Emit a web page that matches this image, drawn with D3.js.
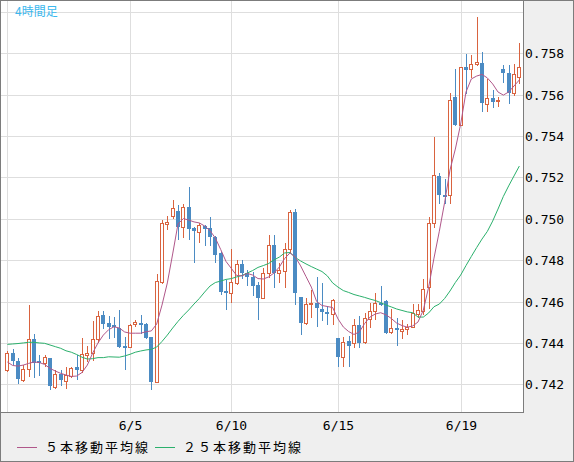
<!DOCTYPE html>
<html>
<head>
<meta charset="UTF-8" />
<script src="https://d3js.org/d3.v7.min.js"></script>
<style>
    body { margin: 0; background: #fff; }
    svg { display: block; }
</style>
</head>
<body>
<div id="chart"></div>
<script>
    // 4時間足 OHLC (one value per bar, left to right)
    var open = [
        0.74269, 0.74350, 0.74313, 0.74221, 0.74273, 0.74418, 0.74311, 0.74304, 0.74326, 0.74188,
        0.74250, 0.74217, 0.74240, 0.74282, 0.74269, 0.74343, 0.74350, 0.74418, 0.74535, 0.74496,
        0.74487, 0.74474, 0.74387, 0.74382, 0.74490, 0.74496, 0.74491, 0.74427, 0.74213, 0.74696,
        0.74976, 0.75015, 0.75038, 0.74962, 0.75056, 0.74954, 0.74938, 0.74967, 0.74954, 0.74913,
        0.74836, 0.74651, 0.74640, 0.74688, 0.74780, 0.74739, 0.74720, 0.74680, 0.74616, 0.74737,
        0.74873, 0.74739, 0.74748, 0.74853, 0.75031, 0.74621, 0.74495, 0.74587, 0.74592, 0.74563,
        0.74548, 0.74538, 0.74422, 0.74333, 0.74409, 0.74400, 0.74487, 0.74406, 0.74514, 0.74556,
        0.74594, 0.74603, 0.74454, 0.74471, 0.74459, 0.74466, 0.74478, 0.74540, 0.74556, 0.74669,
        0.74981, 0.75207, 0.75115, 0.75115, 0.75587, 0.75453, 0.75732, 0.75723, 0.75747, 0.75752,
        0.75554, 0.75583, 0.75569, 0.75723, 0.75703, 0.75610, 0.75687
    ];
    var high = [
        0.74361, 0.74369, 0.74327, 0.74293, 0.74583, 0.74442, 0.74342, 0.74342, 0.74327, 0.74269,
        0.74269, 0.74282, 0.74282, 0.74342, 0.74422, 0.74385, 0.74506, 0.74554, 0.74554, 0.74532,
        0.74527, 0.74559, 0.74427, 0.74490, 0.74511, 0.74535, 0.74496, 0.74430, 0.74733, 0.74994,
        0.75015, 0.75091, 0.75069, 0.75072, 0.75155, 0.74962, 0.74978, 0.74970, 0.75010, 0.74917,
        0.74841, 0.74704, 0.74853, 0.74801, 0.74801, 0.74753, 0.74744, 0.74696, 0.74761, 0.74922,
        0.74922, 0.74785, 0.74885, 0.75043, 0.75046, 0.74622, 0.74619, 0.74656, 0.74717, 0.74688,
        0.74579, 0.74612, 0.74422, 0.74430, 0.74433, 0.74516, 0.74532, 0.74546, 0.74592, 0.74640,
        0.74675, 0.74608, 0.74563, 0.74519, 0.74511, 0.74491, 0.74588, 0.74587, 0.74708, 0.75010,
        0.75397, 0.75220, 0.75191, 0.75610, 0.75723, 0.75734, 0.75797, 0.75792, 0.75974, 0.75808,
        0.75674, 0.75623, 0.75589, 0.75744, 0.75744, 0.75748, 0.75848
    ];
    var low = [
        0.74264, 0.74298, 0.74206, 0.74217, 0.74240, 0.74237, 0.74245, 0.74288, 0.74176, 0.74181,
        0.74197, 0.74181, 0.74234, 0.74224, 0.74261, 0.74313, 0.74316, 0.74406, 0.74474, 0.74425,
        0.74429, 0.74380, 0.74273, 0.74379, 0.74483, 0.74447, 0.74422, 0.74176, 0.74210, 0.74692,
        0.74951, 0.75006, 0.74902, 0.74913, 0.74901, 0.74793, 0.74889, 0.74873, 0.74873, 0.74793,
        0.74637, 0.74564, 0.74599, 0.74687, 0.74712, 0.74680, 0.74632, 0.74514, 0.74615, 0.74717,
        0.74669, 0.74696, 0.74672, 0.74841, 0.74587, 0.74442, 0.74491, 0.74527, 0.74482, 0.74511,
        0.74491, 0.74491, 0.74290, 0.74290, 0.74290, 0.74382, 0.74382, 0.74401, 0.74478, 0.74514,
        0.74583, 0.74448, 0.74447, 0.74390, 0.74425, 0.74442, 0.74477, 0.74527, 0.74540, 0.74567,
        0.74962, 0.75078, 0.75075, 0.75075, 0.75451, 0.75451, 0.75610, 0.75687, 0.75744, 0.75523,
        0.75523, 0.75539, 0.75544, 0.75663, 0.75561, 0.75598, 0.75655
    ];
    var close = [
        0.74351, 0.74314, 0.74224, 0.74273, 0.74418, 0.74304, 0.74304, 0.74331, 0.74193, 0.74248,
        0.74221, 0.74245, 0.74277, 0.74269, 0.74345, 0.74353, 0.74418, 0.74529, 0.74491, 0.74477,
        0.74476, 0.74382, 0.74382, 0.74485, 0.74501, 0.74490, 0.74425, 0.74213, 0.74701, 0.74978,
        0.74983, 0.75051, 0.74962, 0.75056, 0.74952, 0.74943, 0.74970, 0.74951, 0.74911, 0.74825,
        0.74648, 0.74645, 0.74693, 0.74780, 0.74739, 0.74720, 0.74675, 0.74616, 0.74737, 0.74873,
        0.74739, 0.74753, 0.74853, 0.75031, 0.74640, 0.74495, 0.74587, 0.74592, 0.74567, 0.74548,
        0.74538, 0.74608, 0.74331, 0.74406, 0.74387, 0.74487, 0.74398, 0.74519, 0.74556, 0.74594,
        0.74588, 0.74449, 0.74471, 0.74462, 0.74466, 0.74478, 0.74543, 0.74559, 0.74659, 0.74978,
        0.75212, 0.75115, 0.75112, 0.75574, 0.75453, 0.75732, 0.75719, 0.75747, 0.75759, 0.75561,
        0.75583, 0.75566, 0.75574, 0.75706, 0.75610, 0.75699, 0.75735
    ];

    // moving averages
    var ma5 = [
        0.74308, 0.74291, 0.74288, 0.74293, 0.74301, 0.74308, 0.74305, 0.74296, 0.74277, 0.74264,
        0.74253, 0.74245, 0.74238, 0.74240, 0.74257, 0.74293, 0.74351, 0.74400, 0.74438, 0.74464,
        0.74478, 0.74472, 0.74453, 0.74447, 0.74447, 0.74447, 0.74454, 0.74458, 0.74491, 0.74583,
        0.74690, 0.74830, 0.74975, 0.75001, 0.74994, 0.74985, 0.74980, 0.74965, 0.74943, 0.74907,
        0.74852, 0.74794, 0.74760, 0.74726, 0.74724, 0.74736, 0.74728, 0.74711, 0.74709, 0.74719,
        0.74738, 0.74767, 0.74808, 0.74835, 0.74815, 0.74772, 0.74721, 0.74670, 0.74600, 0.74581,
        0.74576, 0.74571, 0.74516, 0.74477, 0.74455, 0.74441, 0.74453, 0.74494, 0.74525, 0.74540,
        0.74546, 0.74536, 0.74518, 0.74496, 0.74484, 0.74476, 0.74482, 0.74501, 0.74559, 0.74670,
        0.74810, 0.74940, 0.75080, 0.75236, 0.75337, 0.75458, 0.75613, 0.75676, 0.75690, 0.75698,
        0.75681, 0.75652, 0.75613, 0.75598, 0.75613, 0.75642, 0.75671
    ];
    var ma25 = [
        0.74393, 0.74395, 0.74397, 0.74400, 0.74403, 0.74403, 0.74400, 0.74398, 0.74390, 0.74382,
        0.74374, 0.74362, 0.74355, 0.74344, 0.74331, 0.74322, 0.74324, 0.74329, 0.74329, 0.74333,
        0.74332, 0.74331, 0.74337, 0.74345, 0.74355, 0.74361, 0.74366, 0.74369, 0.74380, 0.74407,
        0.74438, 0.74472, 0.74504, 0.74533, 0.74559, 0.74588, 0.74615, 0.74646, 0.74675, 0.74692,
        0.74699, 0.74707, 0.74711, 0.74719, 0.74726, 0.74738, 0.74750, 0.74765, 0.74774, 0.74784,
        0.74801, 0.74815, 0.74835, 0.74837, 0.74813, 0.74796, 0.74782, 0.74769, 0.74757, 0.74745,
        0.74724, 0.74690, 0.74670, 0.74653, 0.74644, 0.74634, 0.74627, 0.74620, 0.74612, 0.74605,
        0.74595, 0.74583, 0.74574, 0.74564, 0.74557, 0.74550, 0.74546, 0.74525, 0.74525, 0.74545,
        0.74575, 0.74588, 0.74615, 0.74651, 0.74692, 0.74728, 0.74774, 0.74818, 0.74861, 0.74902,
        0.74939, 0.74989, 0.75047, 0.75108, 0.75159, 0.75207, 0.75255
    ];

    // x ticks (bar index) and their labels, y ticks
    var xTickIdx = [0, 23, 42, 62, 85];
    var xTickLabels = ["", "6/5", "6/10", "6/15", "6/19"];
    var yGrid = [0.742, 0.744, 0.746, 0.748, 0.750, 0.752, 0.754, 0.756, 0.758, 0.760];
    var yLabels = [0.742, 0.744, 0.746, 0.748, 0.750, 0.752, 0.754, 0.756, 0.758];

    var width = 574;
    var height = 462;
    var plotR = 523;
    var plotB = 412;

    var upColor = "#d9633f";
    var downColor = "#4b8bc3";

    var svg = d3.select("#chart")
        .append("svg")
        .attr("width", width)
        .attr("height", height);

    svg.append("rect")
        .attr("x", 0).attr("y", 0)
        .attr("width", width).attr("height", height)
        .attr("fill", "#efefef");

    svg.append("rect")
        .attr("x", 1).attr("y", 1)
        .attr("width", plotR - 1).attr("height", plotB - 1)
        .attr("fill", "#ffffff");

    var x = d3.scaleLinear().domain([0, open.length - 1]).range([7.33, 519.33]);
    var y = d3.scaleLinear().domain([0.742, 0.758]).range([384.3, 53.3]);

    var px = function (i) { return Math.round(x(i)); };
    var py = function (v) { return Math.round(y(v)); };

    var plot = svg.append("g");

    // grid
    plot.selectAll(".hgrid")
        .data(yGrid)
        .enter()
        .append("line")
        .attr("x1", 1).attr("x2", plotR)
        .attr("y1", function (d) { return py(d) + 0.5; })
        .attr("y2", function (d) { return py(d) + 0.5; })
        .attr("stroke", "#dedede")
        .attr("stroke-width", 1);

    plot.selectAll(".vgrid")
        .data(xTickIdx)
        .enter()
        .append("line")
        .attr("x1", function (d) { return px(d) + 0.5; })
        .attr("x2", function (d) { return px(d) + 0.5; })
        .attr("y1", 1).attr("y2", plotB)
        .attr("stroke", "#dedede")
        .attr("stroke-width", 1);

    // candles
    var idx = d3.range(open.length);

    var candle = plot.selectAll(".candle")
        .data(idx)
        .enter()
        .append("g");

    candle.append("line")
        .attr("x1", function (i) { return px(i) + 0.5; })
        .attr("x2", function (i) { return px(i) + 0.5; })
        .attr("y1", function (i) { return py(high[i]); })
        .attr("y2", function (i) { return py(low[i]) + 1; })
        .attr("stroke", function (i) { return close[i] >= open[i] ? upColor : downColor; })
        .attr("stroke-width", 1);

    candle.append("rect")
        .attr("x", function (i) { return close[i] >= open[i] ? px(i) - 1.5 : px(i) - 2; })
        .attr("y", function (i) {
            var t = py(Math.max(open[i], close[i]));
            return close[i] >= open[i] ? t + 0.5 : t;
        })
        .attr("width", function (i) { return close[i] >= open[i] ? 3 : 4; })
        .attr("height", function (i) {
            var h = py(Math.min(open[i], close[i])) - py(Math.max(open[i], close[i]));
            return close[i] >= open[i] ? Math.max(h, 1) : Math.max(h, 2);
        })
        .attr("fill", function (i) { return close[i] >= open[i] ? "#ffffff" : downColor; })
        .attr("stroke", function (i) { return close[i] >= open[i] ? upColor : "none"; })
        .attr("stroke-width", 1);

    // moving averages
    var line5 = d3.line()
        .x(function (d, i) { return x(i); })
        .y(function (d) { return y(d); });

    plot.append("path")
        .datum(ma25)
        .attr("d", line5)
        .attr("fill", "none")
        .attr("stroke", "#2bb06c")
        .attr("stroke-width", 1);

    plot.append("path")
        .datum(ma5)
        .attr("d", line5)
        .attr("fill", "none")
        .attr("stroke", "#b0578a")
        .attr("stroke-width", 1);

    // borders
    svg.append("line")
        .attr("x1", plotR + 0.5).attr("x2", plotR + 0.5)
        .attr("y1", 0).attr("y2", plotB + 1)
        .attr("stroke", "#7c7c7c");
    svg.append("line")
        .attr("x1", 0).attr("x2", plotR + 1)
        .attr("y1", plotB + 0.5).attr("y2", plotB + 0.5)
        .attr("stroke", "#7c7c7c");
    svg.append("rect")
        .attr("x", 0.5).attr("y", 0.5)
        .attr("width", width - 1).attr("height", height - 1)
        .attr("fill", "none")
        .attr("stroke", "#7c7c7c");

    // axis labels
    svg.selectAll(".ylab")
        .data(yLabels)
        .enter()
        .append("text")
        .attr("x", 525)
        .attr("y", function (d) { return y(d) + 5; })
        .attr("font-family", "DejaVu Sans Mono, monospace")
        .attr("font-size", 13)
        .attr("fill", "#000")
        .text(function (d) { return d3.format(".3f")(d); });

    svg.selectAll(".xlab")
        .data(xTickIdx)
        .enter()
        .append("text")
        .attr("x", function (d) { return px(d) + 0.5; })
        .attr("y", 430)
        .attr("text-anchor", "middle")
        .attr("font-family", "DejaVu Sans Mono, monospace")
        .attr("font-size", 13)
        .attr("fill", "#000")
        .text(function (d, i) { return xTickLabels[i]; });

    // title
    svg.append("text")
        .attr("x", 15)
        .attr("y", 16)
        .attr("font-family", "Noto Sans CJK JP, sans-serif")
        .attr("font-size", 12)
        .attr("fill", "#3bb8ee")
        .text("4時間足");

    // legend
    var legend = [
        { name: "５本移動平均線", color: "#b0578a", x: 17 },
        { name: "２５本移動平均線", color: "#2bb06c", x: 155 }
    ];
    var lg = svg.selectAll(".legend")
        .data(legend)
        .enter()
        .append("g");
    lg.append("line")
        .attr("x1", function (d) { return d.x; })
        .attr("x2", function (d) { return d.x + 20; })
        .attr("y1", 447.5).attr("y2", 447.5)
        .attr("stroke", function (d) { return d.color; });
    lg.append("text")
        .attr("x", function (d) { return d.x + 28; })
        .attr("y", 452)
        .attr("font-family", "Noto Sans CJK JP, sans-serif")
        .attr("font-size", 13)
        .attr("letter-spacing", 2)
        .attr("fill", "#000")
        .text(function (d) { return d.name; });
</script>
</body>
</html>
